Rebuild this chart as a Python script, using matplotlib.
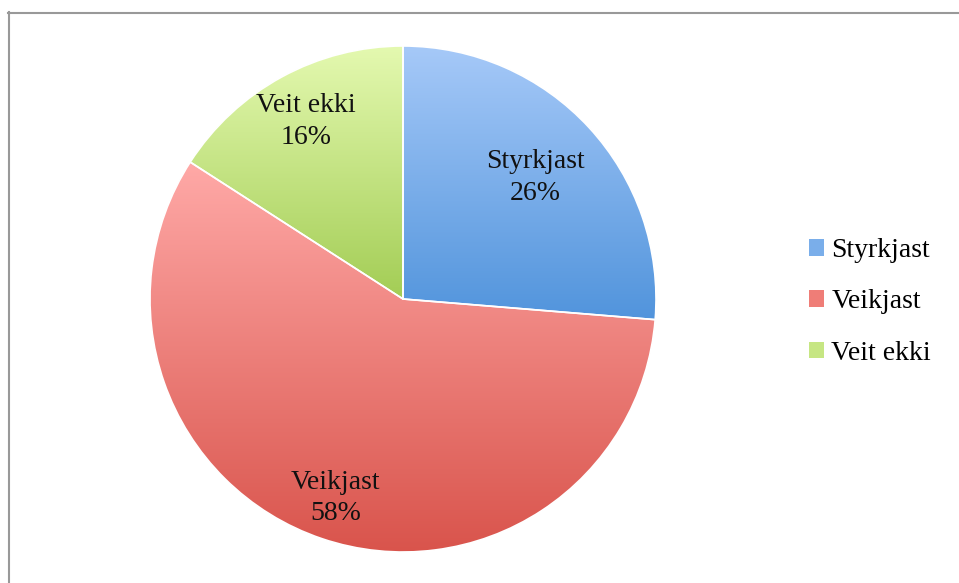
import numpy as np
import matplotlib
matplotlib.use("Agg")
import matplotlib.pyplot as plt
from matplotlib.colors import LinearSegmentedColormap
from matplotlib.patches import Patch, Wedge
from matplotlib.lines import Line2D

categories = ["Styrkjast", "Veikjast", "Veit ekki"]
values = [26.3, 57.8, 15.9]
top_colors = ["#a6c9f8", "#ffa9a7", "#e4f9b0"]
bottom_colors = ["#5194dc", "#d9544c", "#a3cd55"]
mid_colors = ["#7aaeea", "#ef7d77", "#c6e683"]
label_dist = [0.71, 0.83, 0.80]

plt.rcParams['font.family'] = ['Liberation Serif', 'DejaVu Serif']

fig = plt.figure(figsize=(9.59, 5.83), dpi=100)
W, H = 959, 583
ax = fig.add_axes([150 / W, 31 / H, 506 / W, 506 / H])
ax.set_xlim(-1, 1)
ax.set_ylim(-1, 1)
ax.set_aspect('equal')
ax.axis('off')

wedges, _ = ax.pie(values, startangle=90, counterclock=False, radius=1,
                   colors=mid_colors, wedgeprops=dict(linewidth=0))

for w, ct, cb in zip(wedges, top_colors, bottom_colors):
    th = np.deg2rad(np.linspace(w.theta1, w.theta2, 200))
    ys = np.concatenate([w.r * np.sin(th) + w.center[1], [w.center[1]]])
    xs = np.concatenate([w.r * np.cos(th) + w.center[0], [w.center[0]]])
    cmap = LinearSegmentedColormap.from_list("g", [cb, ct])
    grad = np.linspace(0, 1, 256).reshape(-1, 1)
    im = ax.imshow(grad, cmap=cmap, extent=[xs.min(), xs.max(), ys.min(), ys.max()],
                   origin='lower', aspect='auto', zorder=w.get_zorder() + 0.1,
                   interpolation='bilinear')
    im.set_clip_path(w)
    ax.add_patch(Wedge(w.center, w.r, w.theta1, w.theta2, fill=False,
                       edgecolor='white', linewidth=1.2, zorder=w.get_zorder() + 0.2))

ax.set_xlim(-1.0, 1.0)
ax.set_ylim(-1.0, 1.0)

total = sum(values)
for w, cat, v, d in zip(wedges, categories, values, label_dist):
    ang = np.deg2rad((w.theta1 + w.theta2) / 2)
    ax.text(d * np.cos(ang), d * np.sin(ang), f"{cat}\n{round(100 * v / total)}%",
            ha='center', va='center', fontsize=20, linespacing=1.35, zorder=10, color='#111111')

handles = [Patch(facecolor=c, edgecolor='none') for c in mid_colors]
leg = fig.legend(handles, categories, loc='center left', bbox_to_anchor=(809 / W, 1 - 302 / H),
                 frameon=False, fontsize=20, handlelength=0.55, handleheight=0.55,
                 handletextpad=0.25, labelspacing=0.95, borderaxespad=0, borderpad=0)

fig.add_artist(Line2D([8.5 / W, 8.5 / W], [0, 1 - 12 / H], transform=fig.transFigure,
                      color='#999999', linewidth=1.5))
fig.add_artist(Line2D([8 / W, 958 / W], [1 - 12.5 / H, 1 - 12.5 / H], transform=fig.transFigure,
                      color='#999999', linewidth=1.5))

fig.savefig("out.png", dpi=100)
